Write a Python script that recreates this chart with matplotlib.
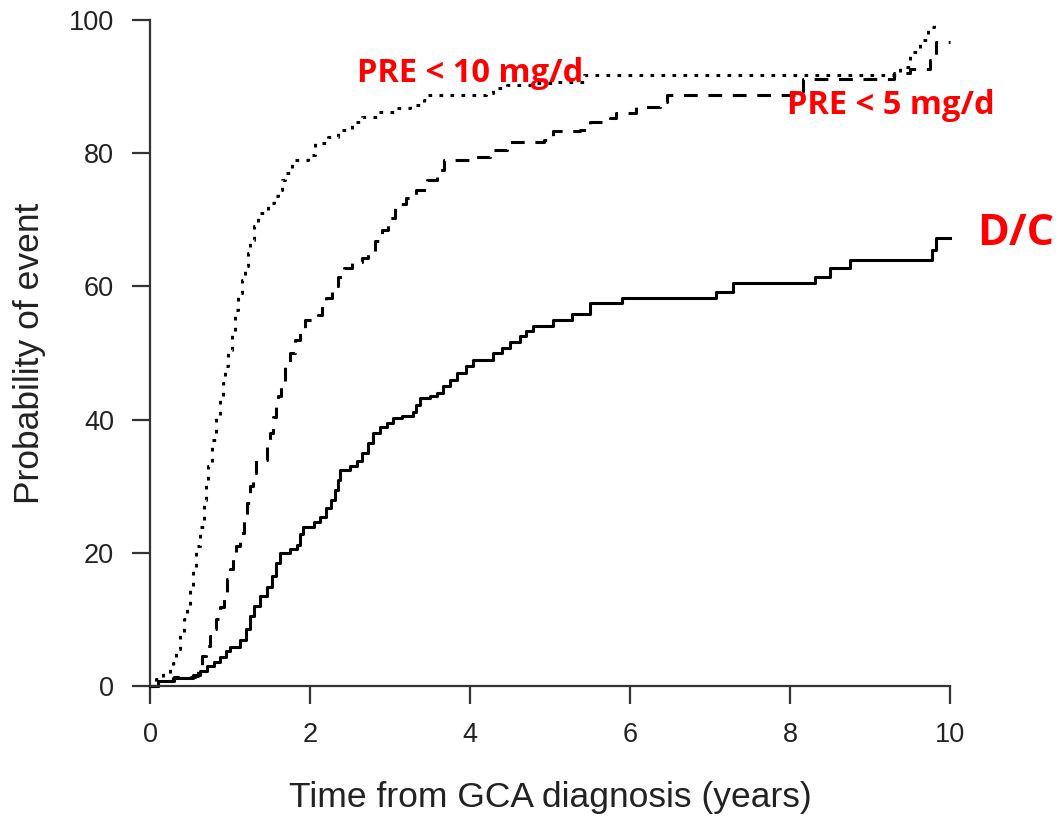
import matplotlib
matplotlib.use("Agg")
import matplotlib.pyplot as plt

# Kaplan-Meier style cumulative curves (years, %)
dc_t = [0, 0.1, 0.29, 0.54, 0.62, 0.71, 0.8, 0.88, 0.95, 1.0, 1.12, 1.2, 1.25, 1.3, 1.38, 1.46,
        1.52, 1.58, 1.63, 1.75, 1.84, 1.88, 1.91, 2.05, 2.13, 2.2, 2.26, 2.31, 2.35, 2.38, 2.5,
        2.59, 2.65, 2.72, 2.79, 2.88, 2.96, 3.04, 3.15, 3.29, 3.33, 3.375, 3.5, 3.59, 3.66, 3.75,
        3.84, 3.95, 4.04, 4.29, 4.4, 4.5, 4.62, 4.7, 4.79, 5.04, 5.27, 5.5, 5.9, 7.08, 7.29,
        8.31, 8.5, 8.75, 9.77, 9.83, 10.0]
dc_p = [0, 0.7, 1.2, 1.6, 2.3, 3.0, 3.6, 4.4, 5.2, 5.9, 6.9, 8.5, 10.5, 12.0, 13.5, 14.9,
        16.5, 18.5, 20.0, 20.5, 21.2, 22.8, 23.9, 24.6, 25.4, 26.8, 28.0, 29.5, 31.0, 32.4, 33.0,
        33.8, 35.0, 36.5, 38.0, 38.9, 39.5, 40.2, 40.6, 41.2, 42.2, 43.2, 43.5, 44.0, 45.0, 46.0,
        47.0, 48.0, 48.9, 50.0, 50.8, 51.6, 52.6, 53.3, 54.0, 55.0, 55.8, 57.5, 58.2, 59.2, 60.5,
        61.4, 62.7, 64.0, 65.5, 67.3, 67.3]

pre5_t = [0, 0.1, 0.3, 0.56, 0.6, 0.65, 0.7, 0.75, 0.79, 0.83, 0.875, 0.92, 0.96, 1.0, 1.04,
          1.08, 1.12, 1.17, 1.21, 1.25, 1.29, 1.33, 1.46, 1.5, 1.54, 1.57, 1.6, 1.64, 1.69, 1.75,
          1.81, 1.87, 1.94, 2.1, 2.15, 2.2, 2.27, 2.35, 2.43, 2.52, 2.65, 2.72, 2.81, 2.9, 2.98,
          3.06, 3.2, 3.33, 3.46, 3.59, 3.67, 4.04, 4.25, 4.46, 4.92, 5.04, 5.375, 5.5, 5.75, 5.83,
          6.08, 6.375, 6.46, 8.16, 9.3, 9.5, 9.75, 9.83, 10.0]
pre5_p = [0, 0.8, 1.3, 1.5, 3.0, 4.5, 6.0, 7.5, 8.5, 10, 11.9, 14, 16, 17.5, 19.2,
          21, 23, 25.4, 27.5, 30, 32, 34, 36, 38, 40.4, 42, 43.5, 45.5, 48, 50,
          52, 53.5, 55, 55.7, 57, 58.2, 60, 61.4, 62.8, 63.7, 64.2, 65.3, 66.8, 68.5, 70.2,
          72.3, 73.2, 74.5, 76, 77.5, 79, 79.5, 80.5, 81.7, 82.0, 83.3, 83.5, 84.7, 85.3, 86.0,
          87.0, 87.7, 88.8, 91.1, 92.0, 92.7, 94.0, 96.7, 96.7]

pre10_t = [0, 0.08, 0.16, 0.25, 0.29, 0.33, 0.375, 0.42, 0.46, 0.5, 0.54, 0.58, 0.625, 0.67,
           0.7, 0.73, 0.775, 0.83, 0.875, 0.91, 0.94, 0.98, 1.02, 1.06, 1.1, 1.15, 1.19, 1.22,
           1.25, 1.3, 1.35, 1.48, 1.55, 1.6, 1.65, 1.69, 1.78, 1.98, 2.06, 2.23, 2.35, 2.52, 2.65,
           2.85, 3.06, 3.25, 3.42, 3.46, 4.2, 4.29, 4.46, 4.79, 5.08, 5.42, 9.3, 9.375, 9.5,
           9.625, 9.72, 9.8]
pre10_p = [0, 1, 2, 2.7, 3.4, 5.5, 8, 10, 12, 15, 17.9, 21, 23.9, 27.9,
           30.5, 33, 37, 40.4, 43, 45.5, 48, 50.5, 53, 56.5, 59, 61, 63, 65,
           67, 69, 71, 72.5, 73.5, 74.5, 76, 77, 79, 79.7, 81.5, 82.4, 83.5, 84.7, 85.4,
           86.2, 86.8, 87.2, 88.0, 88.7, 89.0, 89.8, 90.2, 90.5, 90.7, 91.7, 91.7, 93, 95.2,
           97, 99, 100]

x_ticks = [0, 2, 4, 6, 8, 10]
y_ticks = [0, 20, 40, 60, 80, 100]

fig = plt.figure(figsize=(10.59, 8.24), dpi=100)
ax = fig.add_axes([150 / 1059, 138 / 824, 800 / 1059, 666 / 824])

lw = 2.2
ax.step(dc_t, dc_p, where="post", color="black", lw=lw, clip_on=False)
ax.step(pre5_t, pre5_p, where="post", color="black", lw=lw, clip_on=False,
        linestyle=(0, (4.5, 3.5)))
ax.step(pre10_t, pre10_p, where="post", color="black", lw=lw, clip_on=False,
        linestyle=(0, (1.2, 2.4)))

ax.set_xlim(0, 10)
ax.set_ylim(0, 100)
ax.set_xticks(x_ticks)
ax.set_yticks(y_ticks)
for s in ["top", "right"]:
    ax.spines[s].set_visible(False)
for s in ["left", "bottom"]:
    ax.spines[s].set_color("#333333")
    ax.spines[s].set_linewidth(1.6)
ax.tick_params(direction="out", length=13, width=1.6, color="#333333",
               labelsize=19.5, labelcolor="#222222", pad=13)
for lab in ax.get_xticklabels() + ax.get_yticklabels():
    lab.set_family("Liberation Sans")

ax.set_xlabel("Time from GCA diagnosis (years)", fontsize=25.5, family="Liberation Sans",
              color="#222222", labelpad=24)
ax.set_ylabel("Probability of event", fontsize=25.5, family="Liberation Sans",
              color="#222222", labelpad=16)

red = "#ff0000"
ax.text(2.59, 92, "PRE < 10 mg/d", color=red, fontsize=23.5, fontweight="bold",
        family="Open Sans", va="center", ha="left", clip_on=False)
ax.text(7.96, 87.1, "PRE < 5 mg/d", color=red, fontsize=23.5, fontweight="bold",
        family="Open Sans", va="center", ha="left", clip_on=False)
ax.text(10.34, 68, "D/C", color=red, fontsize=31, fontweight="bold",
        family="Open Sans", va="center", ha="left", clip_on=False)

fig.savefig("out.png", dpi=100)
